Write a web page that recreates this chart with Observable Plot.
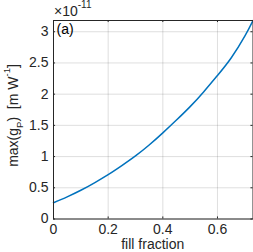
<!DOCTYPE html>
<html><head><meta charset="utf-8">
<script src="https://cdn.jsdelivr.net/npm/d3@7"></script>
<script src="https://cdn.jsdelivr.net/npm/@observablehq/plot@0.6"></script>
<style>body{margin:0;background:#fff} svg{display:block}</style>
</head><body><div id="chart"></div>
<script>
// data (values of max(g_P) in units of 1e-11 m/W)
const fillFraction = [0, 0.05, 0.1, 0.15, 0.2, 0.25, 0.3, 0.35, 0.4, 0.45, 0.5, 0.55, 0.6, 0.65, 0.7, 0.73];
const gMax = [0.26, 0.355, 0.46, 0.58, 0.71, 0.855, 1.01, 1.185, 1.38, 1.585, 1.80, 2.04, 2.30, 2.58, 2.93, 3.18];
const xTicks = [0, 0.2, 0.4, 0.6];
const yTicks = [0, 0.5, 1, 1.5, 2, 2.5, 3];
const xLabel = "fill fraction";
const panelLabel = "(a)";
const multiplierBase = "×10";
const multiplierExp = "-11";

const data = fillFraction.map((x, i) => ({x, y: gMax[i]}));
const xMax = 0.73, yMax = 3.18;
const axisColor = "#262626";
const font = "'Liberation Sans', Arial, Helvetica, sans-serif";

const W = 253, H = 252;
const mL = 53, mR = 0.5, mT = 20, mB = 33.5;
const tickX = 0.0075, tickY = 0.033; // inward tick lengths in data units (~2px)

const chart = Plot.plot({
  width: W, height: H,
  marginLeft: mL, marginRight: mR, marginTop: mT, marginBottom: mB,
  style: {fontFamily: font, fontSize: "14px", color: axisColor, background: "#fff"},
  x: {domain: [0, xMax], ticks: xTicks},
  y: {domain: [0, yMax], ticks: yTicks},
  marks: [
    Plot.gridX(xTicks, {stroke: axisColor, strokeOpacity: 0.15}),
    Plot.gridY(yTicks, {stroke: axisColor, strokeOpacity: 0.15}),
    Plot.axisX(xTicks, {tickSize: 0, tickPadding: 5, label: null, fontSize: 14, fill: axisColor, tickFormat: d => String(d)}),
    Plot.axisY(yTicks, {tickSize: 0, tickPadding: 5, label: null, fontSize: 14, fill: axisColor, tickFormat: d => String(d)}),
    Plot.ruleX(xTicks, {y1: 0, y2: tickY, stroke: axisColor}),
    Plot.ruleX(xTicks, {y1: yMax, y2: yMax - tickY, stroke: axisColor}),
    Plot.ruleY(yTicks, {x1: 0, x2: tickX, stroke: axisColor}),
    Plot.ruleY(yTicks, {x1: xMax, x2: xMax - tickX, stroke: axisColor}),
    Plot.line(data, {x: "x", y: "y", stroke: "#0072BD", strokeWidth: 1.5, curve: "natural"}),
    Plot.frame({stroke: axisColor}),
    Plot.text([panelLabel], {frameAnchor: "top-left", dx: 3, dy: 4, fontSize: 14, fill: "#000", textAnchor: "start"})
  ]
});

const svg = d3.select(chart);
// x label
svg.append("text").attr("x", (mL + W - mR) / 2).attr("y", 249.4)
  .attr("text-anchor", "middle").attr("font-family", font).attr("font-size", 14).attr("fill", axisColor)
  .text(xLabel);
// y label with subscript / superscript
const yl = svg.append("text").attr("transform", "translate(18.3,115.5) rotate(-90)")
  .attr("text-anchor", "middle").attr("font-family", font).attr("font-size", 14).attr("fill", axisColor);
yl.append("tspan").text("max(g");
yl.append("tspan").attr("font-size", 9.5).attr("dy", 5).text("P");
yl.append("tspan").attr("dy", -5).text(")\u00a0\u00a0[m W");
yl.append("tspan").attr("font-size", 9.5).attr("dy", -8).text("-1");
yl.append("tspan").attr("dy", 8).text("]");
// exponent multiplier
const mt = svg.append("text").attr("x", 54).attr("y", 16).attr("text-anchor", "start")
  .attr("font-family", font).attr("font-size", 14).attr("fill", axisColor);
mt.append("tspan").attr("font-size", 14).text(multiplierBase);
mt.append("tspan").attr("font-size", 10).attr("dy", -8).text(multiplierExp);

document.getElementById("chart").append(chart);
</script>
</body></html>
